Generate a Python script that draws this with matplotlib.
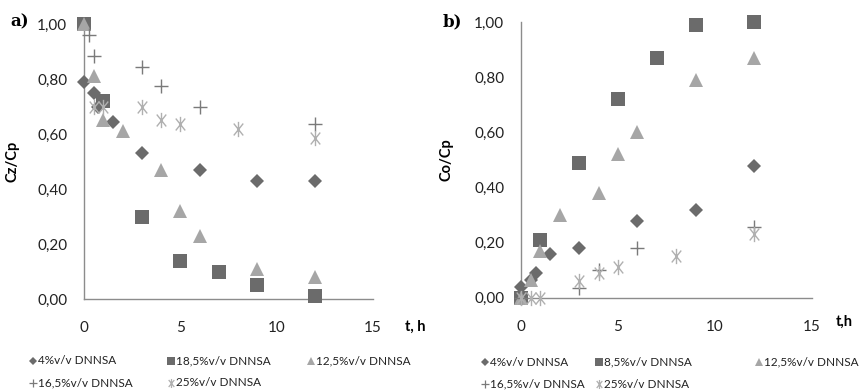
import matplotlib
matplotlib.use("Agg")
import matplotlib.pyplot as plt
from matplotlib.ticker import FuncFormatter
from matplotlib.path import Path
from matplotlib.lines import Line2D

plt.rcParams['font.family'] = ['Lato', 'DejaVu Sans']

# ---- Panel a) Cz/Cp ----
a_x_4 = [0, 0.5, 0.75, 1.5, 3, 6, 9, 12]
a_y_4 = [0.79, 0.75, 0.70, 0.645, 0.53, 0.47, 0.43, 0.43]
a_x_185 = [0, 1, 3, 5, 7, 9, 12]
a_y_185 = [1.00, 0.72, 0.30, 0.14, 0.10, 0.05, 0.01]
a_x_125 = [0, 0.5, 1, 2, 4, 5, 6, 9, 12]
a_y_125 = [1.00, 0.81, 0.65, 0.61, 0.47, 0.32, 0.23, 0.11, 0.08]
a_x_165 = [0.25, 0.5, 3, 4, 6, 12]
a_y_165 = [0.96, 0.885, 0.845, 0.775, 0.70, 0.635]
a_x_25 = [0.5, 1, 3, 4, 5, 8, 12]
a_y_25 = [0.70, 0.70, 0.70, 0.65, 0.635, 0.62, 0.585]
a_labels = ["4%v/v DNNSA", "18,5%v/v DNNSA", "12,5%v/v DNNSA",
            "16,5%v/v DNNSA", "25%v/v DNNSA"]

# ---- Panel b) Co/Cp ----
b_x_4 = [0, 0.5, 0.75, 1.5, 3, 6, 9, 12]
b_y_4 = [0.04, 0.065, 0.09, 0.16, 0.18, 0.28, 0.32, 0.48]
b_x_85 = [0, 1, 3, 5, 7, 9, 12]
b_y_85 = [0.00, 0.21, 0.49, 0.72, 0.87, 0.99, 1.00]
b_x_125 = [0, 0.5, 1, 2, 4, 5, 6, 9, 12]
b_y_125 = [0.00, 0.065, 0.17, 0.30, 0.38, 0.52, 0.60, 0.79, 0.87]
b_x_165 = [0, 3, 4, 6, 12]
b_y_165 = [0.00, 0.035, 0.10, 0.18, 0.255]
b_x_25 = [0, 0.5, 1, 3, 4, 5, 8, 12]
b_y_25 = [0.00, 0.00, 0.00, 0.06, 0.09, 0.11, 0.15, 0.23]
b_labels = ["4%v/v DNNSA", "8,5%v/v DNNSA", "12,5%v/v DNNSA",
            "16,5%v/v DNNSA", "25%v/v DNNSA"]

x_ticks = [0, 5, 10, 15]
y_ticks = [0.0, 0.2, 0.4, 0.6, 0.8, 1.0]

# Excel-like asterisk: an X plus a vertical bar
ast = Path([(0, -1), (0, 1), (-0.62, -0.78), (0.62, 0.78), (-0.62, 0.78), (0.62, -0.78)],
           [Path.MOVETO, Path.LINETO, Path.MOVETO, Path.LINETO, Path.MOVETO, Path.LINETO])

styles = [
    dict(marker='D', color='#6b6b6b', ms=7.5, mew=0.0, lms=4.5),
    dict(marker='s', color='#6b6b6b', ms=9.5, mew=0.0, lms=6),
    dict(marker='^', color='#a6a6a6', ms=10.5, mew=0.0, lms=6),
    dict(marker='+', color='#7a7a7a', ms=10, mew=1.0, lms=6),
    dict(marker=ast, color='#b0b0b0', ms=11, mew=1.0, lms=6.5),
]

fig = plt.figure(figsize=(8.6, 3.92), dpi=100)
axA = fig.add_axes([84/860, 1-299/392, 289/860, 275/392])
axB = fig.add_axes([521/860, 1-297.7/392, 291/860, 275.4/392])

fmt = FuncFormatter(lambda v, p: f"{v:.2f}".replace('.', ','))

def setup(ax, ylabel, lpad):
    ax.set_xlim(0, 15)
    ax.set_ylim(0, 1.0)
    ax.set_xticks(x_ticks)
    ax.set_yticks(y_ticks)
    ax.yaxis.set_major_formatter(fmt)
    for s in ['top', 'right']:
        ax.spines[s].set_visible(False)
    for s in ['left', 'bottom']:
        ax.spines[s].set_color('#8c8c8c')
        ax.spines[s].set_linewidth(1.0)
    ax.tick_params(length=0, labelsize=11, colors='#222222', pad=12)
    ax.tick_params(axis='x', pad=16)
    ax.set_ylabel(ylabel, fontsize=10.5, fontweight='bold', labelpad=lpad)

def plot_series(ax, xs, ys, labels):
    for x, y, lab, st in zip(xs, ys, labels, styles):
        ax.plot(x, y, linestyle='none', marker=st['marker'], color=st['color'],
                markersize=st['ms'], markeredgecolor=st['color'],
                markeredgewidth=st['mew'], clip_on=False, label=lab, zorder=3)

setup(axA, "Cz/Cp", 13)
setup(axB, "Co/Cp", 15)
plot_series(axA, [a_x_4, a_x_185, a_x_125, a_x_165, a_x_25],
            [a_y_4, a_y_185, a_y_125, a_y_165, a_y_25], a_labels)
plot_series(axB, [b_x_4, b_x_85, b_x_125, b_x_165, b_x_25],
            [b_y_4, b_y_85, b_y_125, b_y_165, b_y_25], b_labels)

# axis titles for x
fig.text(405/860, 1-327/392, "t, h", fontsize=10.5, fontweight='bold', ha='left', va='center')
fig.text(836/860, 1-322/392, "t,h", fontsize=10.5, fontweight='bold', ha='left', va='center')

# panel letters
fig.text(10/860, 1-22/392, "a)", fontsize=12, fontweight='bold', family='DejaVu Serif', va='center')
fig.text(443/860, 1-22/392, "b)", fontsize=12, fontweight='bold', family='DejaVu Serif', va='center')

def manual_legend(labels, positions):
    for lab, st, (mx, my) in zip(labels, styles, positions):
        fig.add_artist(Line2D([mx/860], [1-my/392], transform=fig.transFigure,
                              linestyle='none', marker=st['marker'], color=st['color'],
                              markersize=st['lms'], markeredgewidth=min(st['mew'], 0.9) or 0))
        fig.text((mx+5)/860, 1-my/392, lab, fontsize=8.5, color='#222222',
                 ha='left', va='center')

manual_legend(a_labels, [(33, 361), (171, 361), (311, 361), (33, 383), (171, 383)])
manual_legend(b_labels, [(485, 362), (599, 362), (759, 362), (485, 384), (599, 384)])

fig.savefig("out.png", dpi=100)
